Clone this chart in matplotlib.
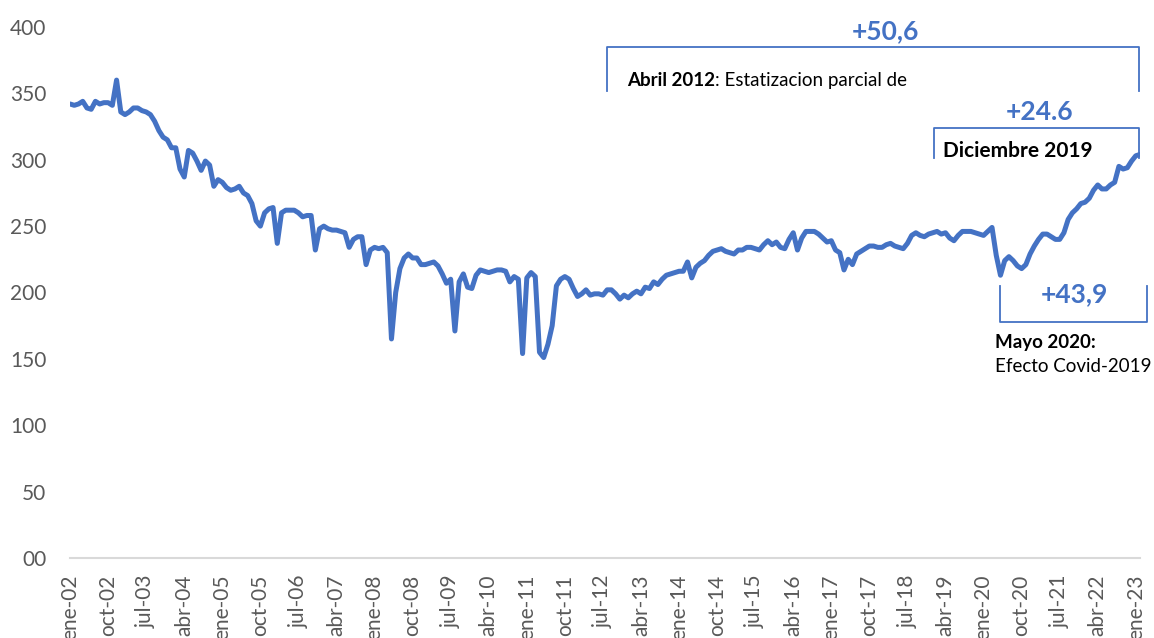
import numpy as np
import matplotlib
matplotlib.use("Agg")
import matplotlib.pyplot as plt

plt.rcParams['font.family'] = ['Lato', 'DejaVu Sans']

# monthly series, ene-02 .. feb-23
values = [
    342, 341, 342, 344, 339, 338, 344, 342, 343, 343,
    341, 360, 336, 334, 336, 339, 339, 337, 336, 334,
    329, 322, 317, 315, 309, 309, 293, 287, 307, 305,
    299, 292, 299, 296, 280, 285, 283, 279, 277, 278,
    280, 275, 273, 267, 254, 250, 260, 263, 264, 237,
    260, 262, 262, 262, 260, 257, 258, 258, 232, 248,
    250, 248, 247, 247, 246, 245, 234, 240, 242, 242,
    221, 232, 234, 233, 234, 230, 165, 200, 218, 226,
    229, 226, 226, 221, 221, 222, 223, 220, 214, 207,
    210, 171, 208, 214, 204, 203, 213, 217, 216, 215,
    216, 217, 217, 216, 208, 212, 210, 154, 211, 215,
    212, 155, 151, 161, 175, 205, 210, 212, 210, 203,
    197, 199, 202, 198, 199, 199, 198, 202, 202, 199,
    195, 198, 196, 199, 201, 199, 204, 203, 208, 206,
    210, 213, 214, 215, 216, 216, 223, 211, 219, 222,
    224, 228, 231, 232, 233, 231, 230, 229, 232, 232,
    234, 234, 233, 232, 236, 239, 236, 238, 234, 233,
    240, 245, 232, 241, 246, 246, 246, 244, 241, 238,
    239, 232, 230, 217, 225, 221, 229, 231, 233, 235,
    235, 234, 234, 236, 237, 235, 234, 233, 237, 243,
    245, 243, 242, 244, 245, 246, 244, 245, 241, 239,
    243, 246, 246, 246, 245, 244, 243, 246, 249, 228,
    213, 224, 227, 224, 220, 218, 221, 229, 235, 240,
    244, 244, 242, 240, 240, 245, 255, 260, 263, 267,
    268, 271, 277, 281, 278, 278, 281, 283, 295, 293,
    294, 299, 303, 304,
]

tick_labels = ['ene-02', 'oct-02', 'jul-03', 'abr-04', 'ene-05', 'oct-05',
               'jul-06', 'abr-07', 'ene-08', 'oct-08', 'jul-09', 'abr-10',
               'ene-11', 'oct-11', 'jul-12', 'abr-13', 'ene-14', 'oct-14',
               'jul-15', 'abr-16', 'ene-17', 'oct-17', 'jul-18', 'abr-19',
               'ene-20', 'oct-20', 'jul-21', 'abr-22', 'ene-23']
y_ticks = [0, 50, 100, 150, 200, 250, 300, 350, 400]
y_labels = ['00', '50', '100', '150', '200', '250', '300', '350', '400']

BLUE = '#4472C4'
GREY = '#595959'

fig = plt.figure(figsize=(11.54, 6.38), dpi=100)
ax = fig.add_axes([0.0607, 0.1254, 0.9272, 0.8323])

x = np.arange(len(values))
ax.plot(x, values, color=BLUE, lw=3.6, solid_capstyle='round', solid_joinstyle='round')

ax.set_xlim(0, len(values) - 1)
ax.set_ylim(0, 400)
ax.set_yticks(y_ticks)
ax.set_yticklabels(y_labels, color=GREY, fontsize=15)
ax.set_xticks(np.arange(len(tick_labels)) * 9)
ax.set_xticklabels(tick_labels, rotation=90, color=GREY, fontsize=15)
ax.tick_params(axis='both', length=0)
ax.tick_params(axis='x', pad=12)
ax.tick_params(axis='y', pad=17)
for s in ['top', 'right', 'left']:
    ax.spines[s].set_visible(False)
ax.spines['bottom'].set_color('#d9d9d9')
ax.spines['bottom'].set_linewidth(1.5)


def bracket(x0, x1, y_bar, y_leg):
    ax.plot([x0, x0, x1, x1], [y_leg, y_bar, y_bar, y_leg], color=BLUE,
            lw=1.3, clip_on=False, solid_joinstyle='round')


# +50,6 bracket
bracket(127, 252.7, 385, 352)
ax.text(192.7, 397, '+50,6', color=BLUE, fontsize=19, fontweight='bold',
        ha='center', va='center', clip_on=False)
t1 = ax.text(131.7, 360, 'Abril 2012', fontsize=13.5, fontweight='bold',
             ha='left', va='center', color='black')
ax.annotate(': Estatizacion parcial de', xy=(1, 0), xycoords=t1,
            fontsize=13.5, ha='left', va='bottom', color='black')

# +24.6 bracket
bracket(204.3, 252.7, 324, 301)
ax.text(229.3, 336, '+24.6', color=BLUE, fontsize=19, fontweight='bold',
        ha='center', va='center')
ax.text(206.4, 306.5, 'Diciembre 2019', fontsize=15, fontweight='bold',
        ha='left', va='center', color='black')

# +43,9 bracket
bracket(220, 254.6, 178, 205)
ax.text(237.6, 199, '+43,9', color=BLUE, fontsize=19, fontweight='bold',
        ha='center', va='center', clip_on=False)
ax.text(218.7, 162.5, 'Mayo 2020:', fontsize=13.5, fontweight='bold',
        ha='left', va='center', color='black', clip_on=False)
ax.text(218.7, 144.5, 'Efecto Covid-2019', fontsize=13.5,
        ha='left', va='center', color='black', clip_on=False)

fig.savefig('out.png', dpi=100)
